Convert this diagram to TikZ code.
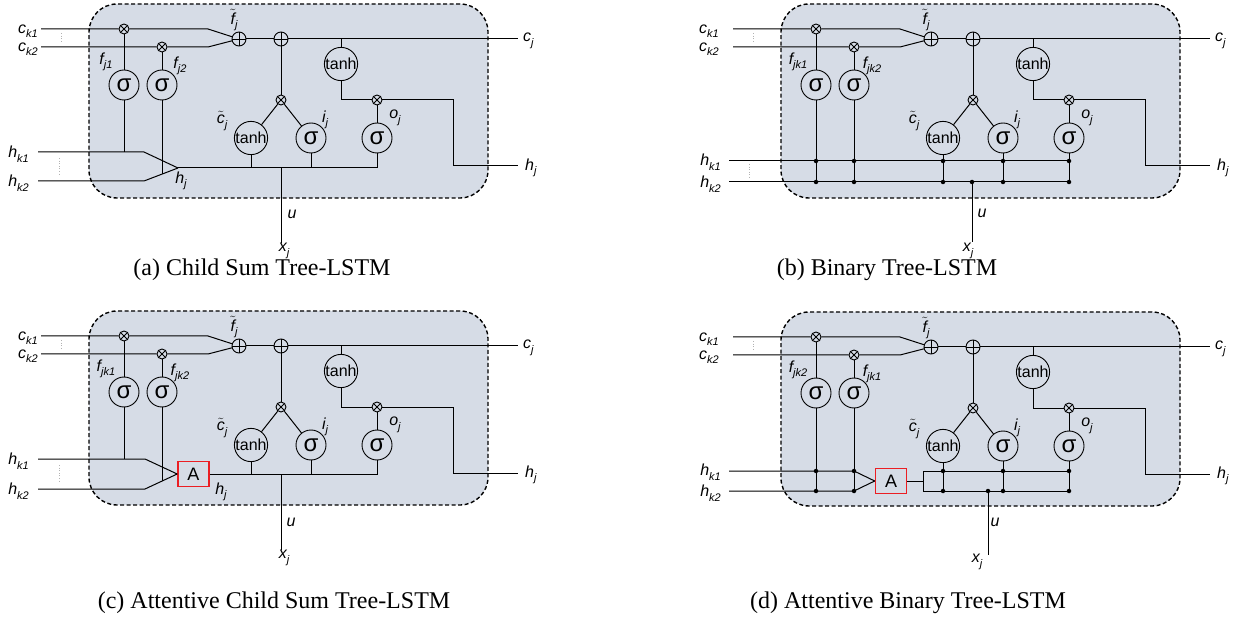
\documentclass[tikz,border=0pt]{standalone}
\usepackage{fontspec}
\setmainfont{Liberation Serif}
\newfontfamily\labfont{Liberation Sans}
\usetikzlibrary{calc}
\definecolor{cellfill}{RGB}{214,220,230}
\definecolor{attnred}{RGB}{235,30,35}
\newcommand\sbs[1]{\raisebox{-0.28em}{\fontsize{11}{11}\selectfont #1}}
\newcommand\tl[1]{\ensuremath{\tilde{\mbox{#1}}}}
\tikzset{
 wire/.style={line width=1pt, draw=black},
 cellbox/.style={draw=black, fill=cellfill, dash pattern=on 4pt off 2.5pt, line width=1.4pt, rounded corners=28pt, minimum width=399pt, minimum height=194pt, inner sep=0pt},
 sig/.style={circle, draw=black, line width=0.9pt, minimum size=30pt, inner sep=0pt, font=\labfont\fontsize{24}{24}\selectfont},
 tanhg/.style={circle, draw=black, line width=0.9pt, minimum size=31pt, inner sep=0pt, font=\labfont\fontsize{16}{16}\selectfont},
 mult/.style={circle, draw=black, line width=0.9pt, minimum size=10pt, inner sep=0pt},
 plusg/.style={circle, draw=black, line width=0.9pt, minimum size=14pt, inner sep=0pt},
 symline/.style={line width=0.8pt, draw=black},
 dotsep/.style={draw=black!30, dotted, line width=0.6pt},
 lbl/.style={font=\labfont\itshape\fontsize{16}{16}\selectfont, inner sep=1pt},
 jdot/.style={circle, fill=black, inner sep=0pt, minimum size=4.5pt},
 attn/.style={draw=attnred, line width=1.6pt, minimum width=31pt, minimum height=25pt, inner sep=0pt, font=\labfont\fontsize{18}{18}\selectfont},
 captext/.style={font=\fontsize{24}{24}\selectfont, inner sep=0pt}
}
\newcommand\celltop[3]{%
 \node[cellbox] (box) at (288.5,101) {};
 \node[mult] (m1) at (124,29) {};
 \node[mult] (m2) at (162,47) {};
 \node[plusg] (p1) at (239,39) {};
 \node[plusg] (p2) at (281,39) {};
 \node[sig] (s1) at (124,85) {σ};
 \node[sig] (s2) at (162,85) {σ};
 \node[tanhg] (T) at (341,64) {tanh};
 \node[mult] (mo) at (377,100) {};
 \node[mult] (mc) at (281,100) {};
 \node[tanhg] (tc) at (251,138) {tanh};
 \node[sig] (si) at (311,138) {σ};
 \node[sig] (so) at (377,138) {σ};
 \foreach \n in {m1,m2,mo,mc} {\draw[symline] (\n.north west) -- (\n.south east) (\n.north east) -- (\n.south west);}
 \foreach \n in {p1,p2} {\draw[symline] (\n.north) -- (\n.south) (\n.west) -- (\n.east);}
 \coordinate (ck1) at (41,29);
 \coordinate (ck2) at (41,47);
 \coordinate (bk1) at (208,29);
 \coordinate (bk2) at (208,47);
 \coordinate (tj) at (341,39);
 \coordinate (cj) at (518,39);
 \coordinate (tb) at (341,100);
 \coordinate (ho1) at (453,100);
 \coordinate (ho2) at (453,166);
 \coordinate (hj) at (518,166);
 \draw[wire] (ck1) -- (m1) -- (bk1) -- (p1);
 \draw[wire] (ck2) -- (m2) -- (bk2) -- (p1);
 \draw[wire] (p1) -- (p2) -- (cj);
 \draw[wire] (m1) -- (s1);
 \draw[wire] (m2) -- (s2);
 \draw[wire] (tj) -- (T);
 \draw[wire] (T) -- (tb) -- (mo);
 \draw[wire] (mo) -- (ho1) -- (ho2) -- (hj);
 \draw[wire] (mo) -- (so);
 \draw[wire] (p2) -- (mc);
 \draw[wire] (mc) -- (tc);
 \draw[wire] (mc) -- (si);
 \draw[dotsep] (61,33) -- (61,43);
 \node[lbl, anchor=east] (lck1) at (#3,31) {c\sbs{k1}};
 \node[lbl, anchor=east] (lck2) at (#3,49) {c\sbs{k2}};
 \node[lbl, anchor=west] (lcj) at (522,41) {c\sbs{j}};
 \node[lbl, anchor=west] (lhj) at (524,168) {h\sbs{j}};
 \node[lbl] (lft) at (234,20) {\tl{f}\sbs{j}};
 \node[lbl] (lf1) at (106,62) {#1};
 \node[lbl] (lf2) at (180,66) {#2};
 \node[lbl] (lct) at (222,121) {\tl{c}\sbs{j}};
 \node[lbl] (lij) at (325,120) {i\sbs{j}};
 \node[lbl] (loj) at (395,118) {o\sbs{j}};
}
\begin{document}
\begin{tikzpicture}[x=1pt,y=-1pt]
\useasboundingbox (0,0) rectangle (1240,620);
% ---------------- (a)
\begin{scope}[name prefix=a-]
 \celltop{f\sbs{j1}}{f\sbs{j2}}{39}
 \coordinate (hk1) at (38,152);
 \coordinate (hk2) at (38,181);
 \coordinate (g1) at (144,152);
 \coordinate (g2) at (144,181);
 \coordinate (mg) at (178,168);
 \coordinate (q1) at (124,152);
 \coordinate (q2) at (162,174.1);
 \coordinate (uo) at (281,168);
 \coordinate (ux) at (281,243);
 \draw[wire] (hk1) -- (g1) -- (mg);
 \draw[wire] (hk2) -- (g2) -- (mg);
 \draw[wire] (mg) -- (so |- mg) -- (so);
 \draw[wire] (s1) -- (q1);
 \draw[wire] (s2) -- (q2);
 \draw[wire] (tc) -- (tc |- mg);
 \draw[wire] (si) -- (si |- mg);
 \draw[wire] (uo) -- (ux);
 \draw[dotsep] (59,158) -- (59,176);
 \node[lbl, anchor=east] (lhk1) at (30,154) {h\sbs{k1}};
 \node[lbl, anchor=east] (lhk2) at (30,183) {h\sbs{k2}};
 \node[lbl] (lhin) at (181,181) {h\sbs{j}};
 \node[lbl] (lu) at (292,214) {u};
 \node[lbl] (lx) at (284,251) {x\sbs{j}};
\end{scope}
% ---------------- (b)
\begin{scope}[shift={(692,0)}, name prefix=b-]
 \celltop{f\sbs{jk1}}{f\sbs{jk2}}{28}
 \coordinate (hk1) at (37,161);
 \coordinate (hk2) at (37,182);
 \coordinate (e1) at (377,161);
 \coordinate (e2) at (377,182);
 \draw[wire] (hk1) -- (e1);
 \draw[wire] (hk2) -- (e2);
 \foreach \n in {s1,s2,tc,si,so} {
   \draw[wire] (\n) -- (\n |- hk2);
   \node[jdot] (d\n a) at (\n |- hk1) {};
   \node[jdot] (d\n b) at (\n |- hk2) {};
 }
 \coordinate (uo) at (280,182);
 \coordinate (ux) at (280,242);
 \node[jdot] (du) at (uo) {};
 \draw[wire] (uo) -- (ux);
 \draw[dotsep] (57,164) -- (57,178);
 \node[lbl, anchor=east] (lhk1) at (30,162) {h\sbs{k1}};
 \node[lbl, anchor=east] (lhk2) at (30,184) {h\sbs{k2}};
 \node[lbl] (lu) at (290,213) {u};
 \node[lbl] (lx) at (276,251) {x\sbs{j}};
\end{scope}
% ---------------- (c)
\begin{scope}[shift={(0,307)}, name prefix=c-]
 \celltop{f\sbs{jk1}}{f\sbs{jk2}}{39}
 \coordinate (hk1) at (38,152);
 \coordinate (hk2) at (38,182);
 \coordinate (g1) at (145,152);
 \coordinate (g2) at (145,182);
 \node[attn] (A) at (193.5,167) {A};
 \coordinate (q1) at (124,152);
 \coordinate (q2) at (162,174.3);
 \coordinate (uo) at (281,167);
 \coordinate (ux) at (281,243);
 \draw[wire] (hk1) -- (g1) -- (A.west);
 \draw[wire] (hk2) -- (g2) -- (A.west);
 \draw[wire] (A.east) -- (so |- A.east) -- (so);
 \draw[wire] (s1) -- (q1);
 \draw[wire] (s2) -- (q2);
 \draw[wire] (tc) -- (tc |- A.east);
 \draw[wire] (si) -- (si |- A.east);
 \draw[wire] (uo) -- (ux);
 \draw[dotsep] (59,158) -- (59,176);
 \node[lbl, anchor=east] (lhk1) at (30,154) {h\sbs{k1}};
 \node[lbl, anchor=east] (lhk2) at (30,184) {h\sbs{k2}};
 \node[lbl] (lhin) at (221,185) {h\sbs{j}};
 \node[lbl] (lu) at (291,215) {u};
 \node[lbl] (lx) at (284,251) {x\sbs{j}};
\end{scope}
% ---------------- (d)
\begin{scope}[shift={(692,308)}, name prefix=d-]
 \celltop{f\sbs{jk2}}{f\sbs{jk1}}{28}
 \coordinate (hk1) at (37,163);
 \coordinate (hk2) at (37,183);
 \node[attn] (A) at (199,173) {A};
 \coordinate (g1) at (162,163);
 \coordinate (g2) at (162,183);
 \draw[wire] (hk1) -- (g1) -- (A.west);
 \draw[wire] (hk2) -- (g2) -- (A.west);
 \draw[wire] (s1) -- (s1 |- hk2);
 \draw[wire] (s2) -- (g2);
 \node[jdot] (ds1a) at (s1 |- hk1) {};
 \node[jdot] (ds1b) at (s1 |- hk2) {};
 \node[jdot] (dg1) at (g1) {};
 \node[jdot] (dg2) at (g2) {};
 \coordinate (br) at (231,173);
 \coordinate (bt) at (231,163);
 \coordinate (bb) at (231,183);
 \coordinate (et) at (377,163);
 \coordinate (eb) at (377,183);
 \draw[wire] (A.east) -- (br);
 \draw[wire] (et) -- (bt) -- (bb) -- (eb);
 \foreach \n in {tc,si,so} {
   \draw[wire] (\n) -- (\n |- eb);
   \node[jdot] (d\n a) at (\n |- et) {};
   \node[jdot] (d\n b) at (\n |- eb) {};
 }
 \coordinate (uo) at (296,183);
 \coordinate (ux) at (296,247);
 \node[jdot] (du) at (uo) {};
 \draw[wire] (uo) -- (ux);
 \node[lbl, anchor=east] (lhk1) at (30,164) {h\sbs{k1}};
 \node[lbl, anchor=east] (lhk2) at (30,185) {h\sbs{k2}};
 \node[lbl] (lu) at (303,214) {u};
 \node[lbl] (lx) at (285,254) {x\sbs{j}};
\end{scope}
% ---------------- captions
\node[captext] (capa) at (262,270) {(a) Child Sum Tree-LSTM};
\node[captext] (capb) at (887,270) {(b) Binary Tree-LSTM};
\node[captext] (capc) at (274,603) {(c) Attentive Child Sum Tree-LSTM};
\node[captext] (capd) at (908,603) {(d) Attentive Binary Tree-LSTM};
\end{tikzpicture}
\end{document}
